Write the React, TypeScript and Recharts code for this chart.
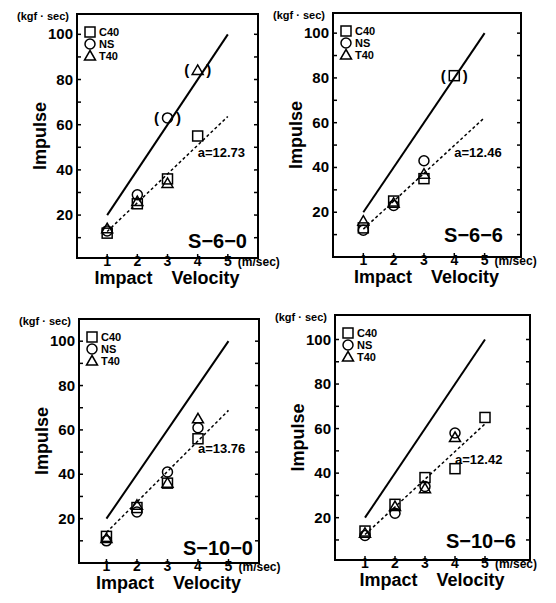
import React from "react";
import { ScatterChart, Scatter, XAxis, YAxis, ReferenceLine, ReferenceDot, Legend } from "recharts";

const velocity = [1, 2, 3, 4, 5];
const xTicks = [1, 2, 3, 4, 5];
const yTicks = [10, 20, 30, 40, 50, 60, 70, 80, 90, 100];
const seriesNames = ["C40", "NS", "T40"];
const idealSlope = 20;
const lineRange = [1, 5];

// S-6-0
const s60C40 = [12, 25, 36, 55];
const s60NS = [13, 29, 63];
const s60T40 = [14, 26, 34, 84];
const s60Bracketed: Record<string, number[]> = { NS: [3], T40: [4] };
const s60Slope = 12.73;

// S-6-6
const s66C40 = [13, 25, 35, 81];
const s66NS = [12, 23, 43];
const s66T40 = [16, 24, 37];
const s66Bracketed: Record<string, number[]> = { C40: [4] };
const s66Slope = 12.46;

// S-10-0
const s100C40 = [12, 25, 36, 56];
const s100NS = [10, 23, 41, 61];
const s100T40 = [11, 26, 36, 65];
const s100Bracketed: Record<string, number[]> = {};
const s100Slope = 13.76;

// S-10-6
const s106C40 = [14, 26, 38, 42, 65];
const s106NS = [12, 22, 34, 58];
const s106T40 = [13, 25, 33, 56];
const s106Bracketed: Record<string, number[]> = {};
const s106Slope = 12.42;

const PL = 80;
const PT = 14;
const FONT = '"Liberation Sans", Arial, sans-serif';

const panels = [
  { tag: "S\u22126\u22120", slope: s60Slope, values: [s60C40, s60NS, s60T40], bracketed: s60Bracketed, plotX: 77, plotY: 14, w: 181, h: 244, xDomain: [0, 6], yDomain: [1, 109], tagInset: [11, 10] },
  { tag: "S\u22126\u22126", slope: s66Slope, values: [s66C40, s66NS, s66T40], bracketed: s66Bracketed, plotX: 333, plotY: 13, w: 188, h: 244, xDomain: [0, 6.2], yDomain: [0, 109], tagInset: [18, 15] },
  { tag: "S\u221210\u22120", slope: s100Slope, values: [s100C40, s100NS, s100T40], bracketed: s100Bracketed, plotX: 79, plotY: 319, w: 180, h: 244, xDomain: [0.1, 6], yDomain: [0, 110], tagInset: [6, 8] },
  { tag: "S\u221210\u22126", slope: s106Slope, values: [s106C40, s106NS, s106T40], bracketed: s106Bracketed, plotX: 335, plotY: 315, w: 195, h: 245, xDomain: [0, 6.5], yDomain: [1, 111], tagInset: [14, 12] },
];

function marker(kind: string, cx: number, cy: number) {
  const s = { fill: "none", stroke: "#000", strokeWidth: 1.5 };
  if (kind === "C40") return <rect x={cx - 5} y={cy - 5} width={10} height={10} {...s} />;
  if (kind === "NS") return <circle cx={cx} cy={cy} r={5} {...s} />;
  return <path d={`M${cx},${cy - 5.5}L${cx + 5.5},${cy + 4}L${cx - 5.5},${cy + 4}Z`} {...s} />;
}

const makeShape = (kind: string) => (props: any) => {
  const { cx, cy, payload } = props;
  const pf = { fontFamily: FONT, fontWeight: 700, fontSize: 15 };
  return (
    <g>
      {marker(kind, cx, cy)}
      {payload.bracketed && (
        <>
          <text x={cx - 11} y={cy + 5} textAnchor="middle" style={pf}>(</text>
          <text x={cx + 11} y={cy + 5} textAnchor="middle" style={pf}>)</text>
        </>
      )}
    </g>
  );
};

const tickFont = { fontFamily: FONT, fontWeight: 700, fontSize: 14, fill: "#000" };

const XTick = (props: any) => {
  const { x, y, payload } = props;
  return (
    <g>
      <line x1={x} x2={x} y1={y} y2={y - 4} stroke="#000" strokeWidth={1.5} />
      <text x={x} y={y + 8} textAnchor="middle" style={tickFont}>{payload.value}</text>
      {payload.value === 5 && (
        <text x={x + 10} y={y + 8} style={{ ...tickFont, fontSize: 12 }}>(m/sec)</text>
      )}
    </g>
  );
};

const YTick = (props: any) => {
  const { x, y, payload } = props;
  const major = payload.value % 20 === 0;
  return (
    <g>
      <line x1={x} x2={x + 4} y1={y} y2={y} stroke="#000" strokeWidth={1.5} />
      {major && (
        <text x={x - 4} y={y + 5} textAnchor="end" style={{ ...tickFont, fontSize: 15 }}>{payload.value}</text>
      )}
    </g>
  );
};

const RTick = (props: any) => {
  const { x, y } = props;
  return <line x1={x} x2={x - 4} y1={y} y2={y} stroke="#000" strokeWidth={1.5} />;
};

const LegendContent = (props: any) => (
  <div style={{ fontFamily: FONT, fontWeight: 700, fontSize: 11, lineHeight: "12px", color: "#000" }}>
    {(props.payload || []).map((e: any) => (
      <div key={e.value} style={{ display: "flex", alignItems: "center", height: 12 }}>
        <svg width={12} height={12} style={{ overflow: "visible" }}>{marker(e.value, 6, 6)}</svg>
        <span style={{ marginLeft: 3 }}>{e.value}</span>
      </div>
    ))}
  </div>
);

function Panel({ p }: { p: (typeof panels)[number] }) {
  const width = PL + p.w + 60;
  const height = PT + p.h + 42;
  const series = seriesNames.map((name, k) => ({
    name,
    data: p.values[k].map((y, i) => ({
      x: velocity[i],
      y,
      bracketed: (p.bracketed[name] || []).includes(velocity[i]),
    })),
  }));
  const midX = PL + p.w / 2;
  const bottom = PT + p.h;
  return (
    <div style={{ position: "absolute", left: p.plotX - PL, top: p.plotY - PT, width, height }}>
      <ScatterChart width={width} height={height} margin={{ top: PT, right: 59, bottom: 0, left: 0 }}>
        <XAxis type="number" dataKey="x" domain={p.xDomain} ticks={xTicks} interval={0} allowDataOverflow
          axisLine={false} tickLine={false} tickSize={0} tickMargin={0} height={42} tick={<XTick />} />
        <YAxis type="number" dataKey="y" domain={p.yDomain} ticks={yTicks} interval={0} allowDataOverflow
          axisLine={false} tickLine={false} tickSize={0} tickMargin={0} width={PL} tick={<YTick />} />
        <YAxis yAxisId="r" orientation="right" type="number" domain={p.yDomain} ticks={yTicks} interval={0}
          allowDataOverflow axisLine={false} tickLine={false} tickSize={0} tickMargin={0} width={1} tick={<RTick />} />
        <ReferenceLine segment={[{ x: lineRange[0], y: idealSlope * lineRange[0] }, { x: lineRange[1], y: idealSlope * lineRange[1] }]}
          stroke="#000" strokeWidth={2} ifOverflow="visible" />
        <ReferenceLine segment={[{ x: lineRange[0], y: p.slope * lineRange[0] }, { x: lineRange[1], y: p.slope * lineRange[1] }]}
          stroke="#000" strokeWidth={1.5} strokeDasharray="3 2.5" ifOverflow="visible" />
        <ReferenceDot x={4} y={p.slope * 4} r={0} fill="none" stroke="none" ifOverflow="visible"
          label={{
            content: (lp: any) => (
              <text x={lp.viewBox.x} y={lp.viewBox.y + 12} style={{ fontFamily: FONT, fontWeight: 700, fontSize: 13, fill: "#000" }}>
                a={p.slope.toFixed(2)}
              </text>
            ),
          }} />
        {series.map((s) => (
          <Scatter key={s.name} name={s.name} data={s.data} shape={makeShape(s.name)} isAnimationActive={false} />
        ))}
        <Legend layout="vertical" align="center" verticalAlign="middle" content={LegendContent}
          wrapperStyle={{ left: PL + 7, top: PT + 12, width: "auto", height: "auto" }} />
      </ScatterChart>
      <svg width={width} height={height} style={{ position: "absolute", left: 0, top: 0, pointerEvents: "none" }}>
        <rect x={PL} y={PT} width={p.w} height={p.h} fill="none" stroke="#000" strokeWidth={2} />
        <text x={PL - 8} y={PT + 6} textAnchor="end" style={{ fontFamily: FONT, fontWeight: 700, fontSize: 11 }}>
          (kgf · sec)
        </text>
        <text transform={`translate(${PL - 37},${PT + p.h / 2}) rotate(-90)`} textAnchor="middle" dominantBaseline="central"
          style={{ fontFamily: FONT, fontWeight: 700, fontSize: 18 }}>
          Impulse
        </text>
        <text x={midX - 15} y={bottom + 26} textAnchor="end" style={{ fontFamily: FONT, fontWeight: 700, fontSize: 18 }}>Impact</text>
        <text x={midX + 4} y={bottom + 26} style={{ fontFamily: FONT, fontWeight: 700, fontSize: 18 }}>Velocity</text>
        <text x={PL + p.w - p.tagInset[0]} y={bottom - p.tagInset[1]} textAnchor="end"
          style={{ fontFamily: FONT, fontWeight: 700, fontSize: 20 }}>
          {p.tag}
        </text>
      </svg>
    </div>
  );
}

export default function App() {
  return (
    <div style={{ position: "absolute", left: 0, top: 0, width: 556, height: 603, background: "#fff", overflow: "hidden" }}>
      {panels.map((p) => (
        <Panel key={p.tag} p={p} />
      ))}
    </div>
  );
}
